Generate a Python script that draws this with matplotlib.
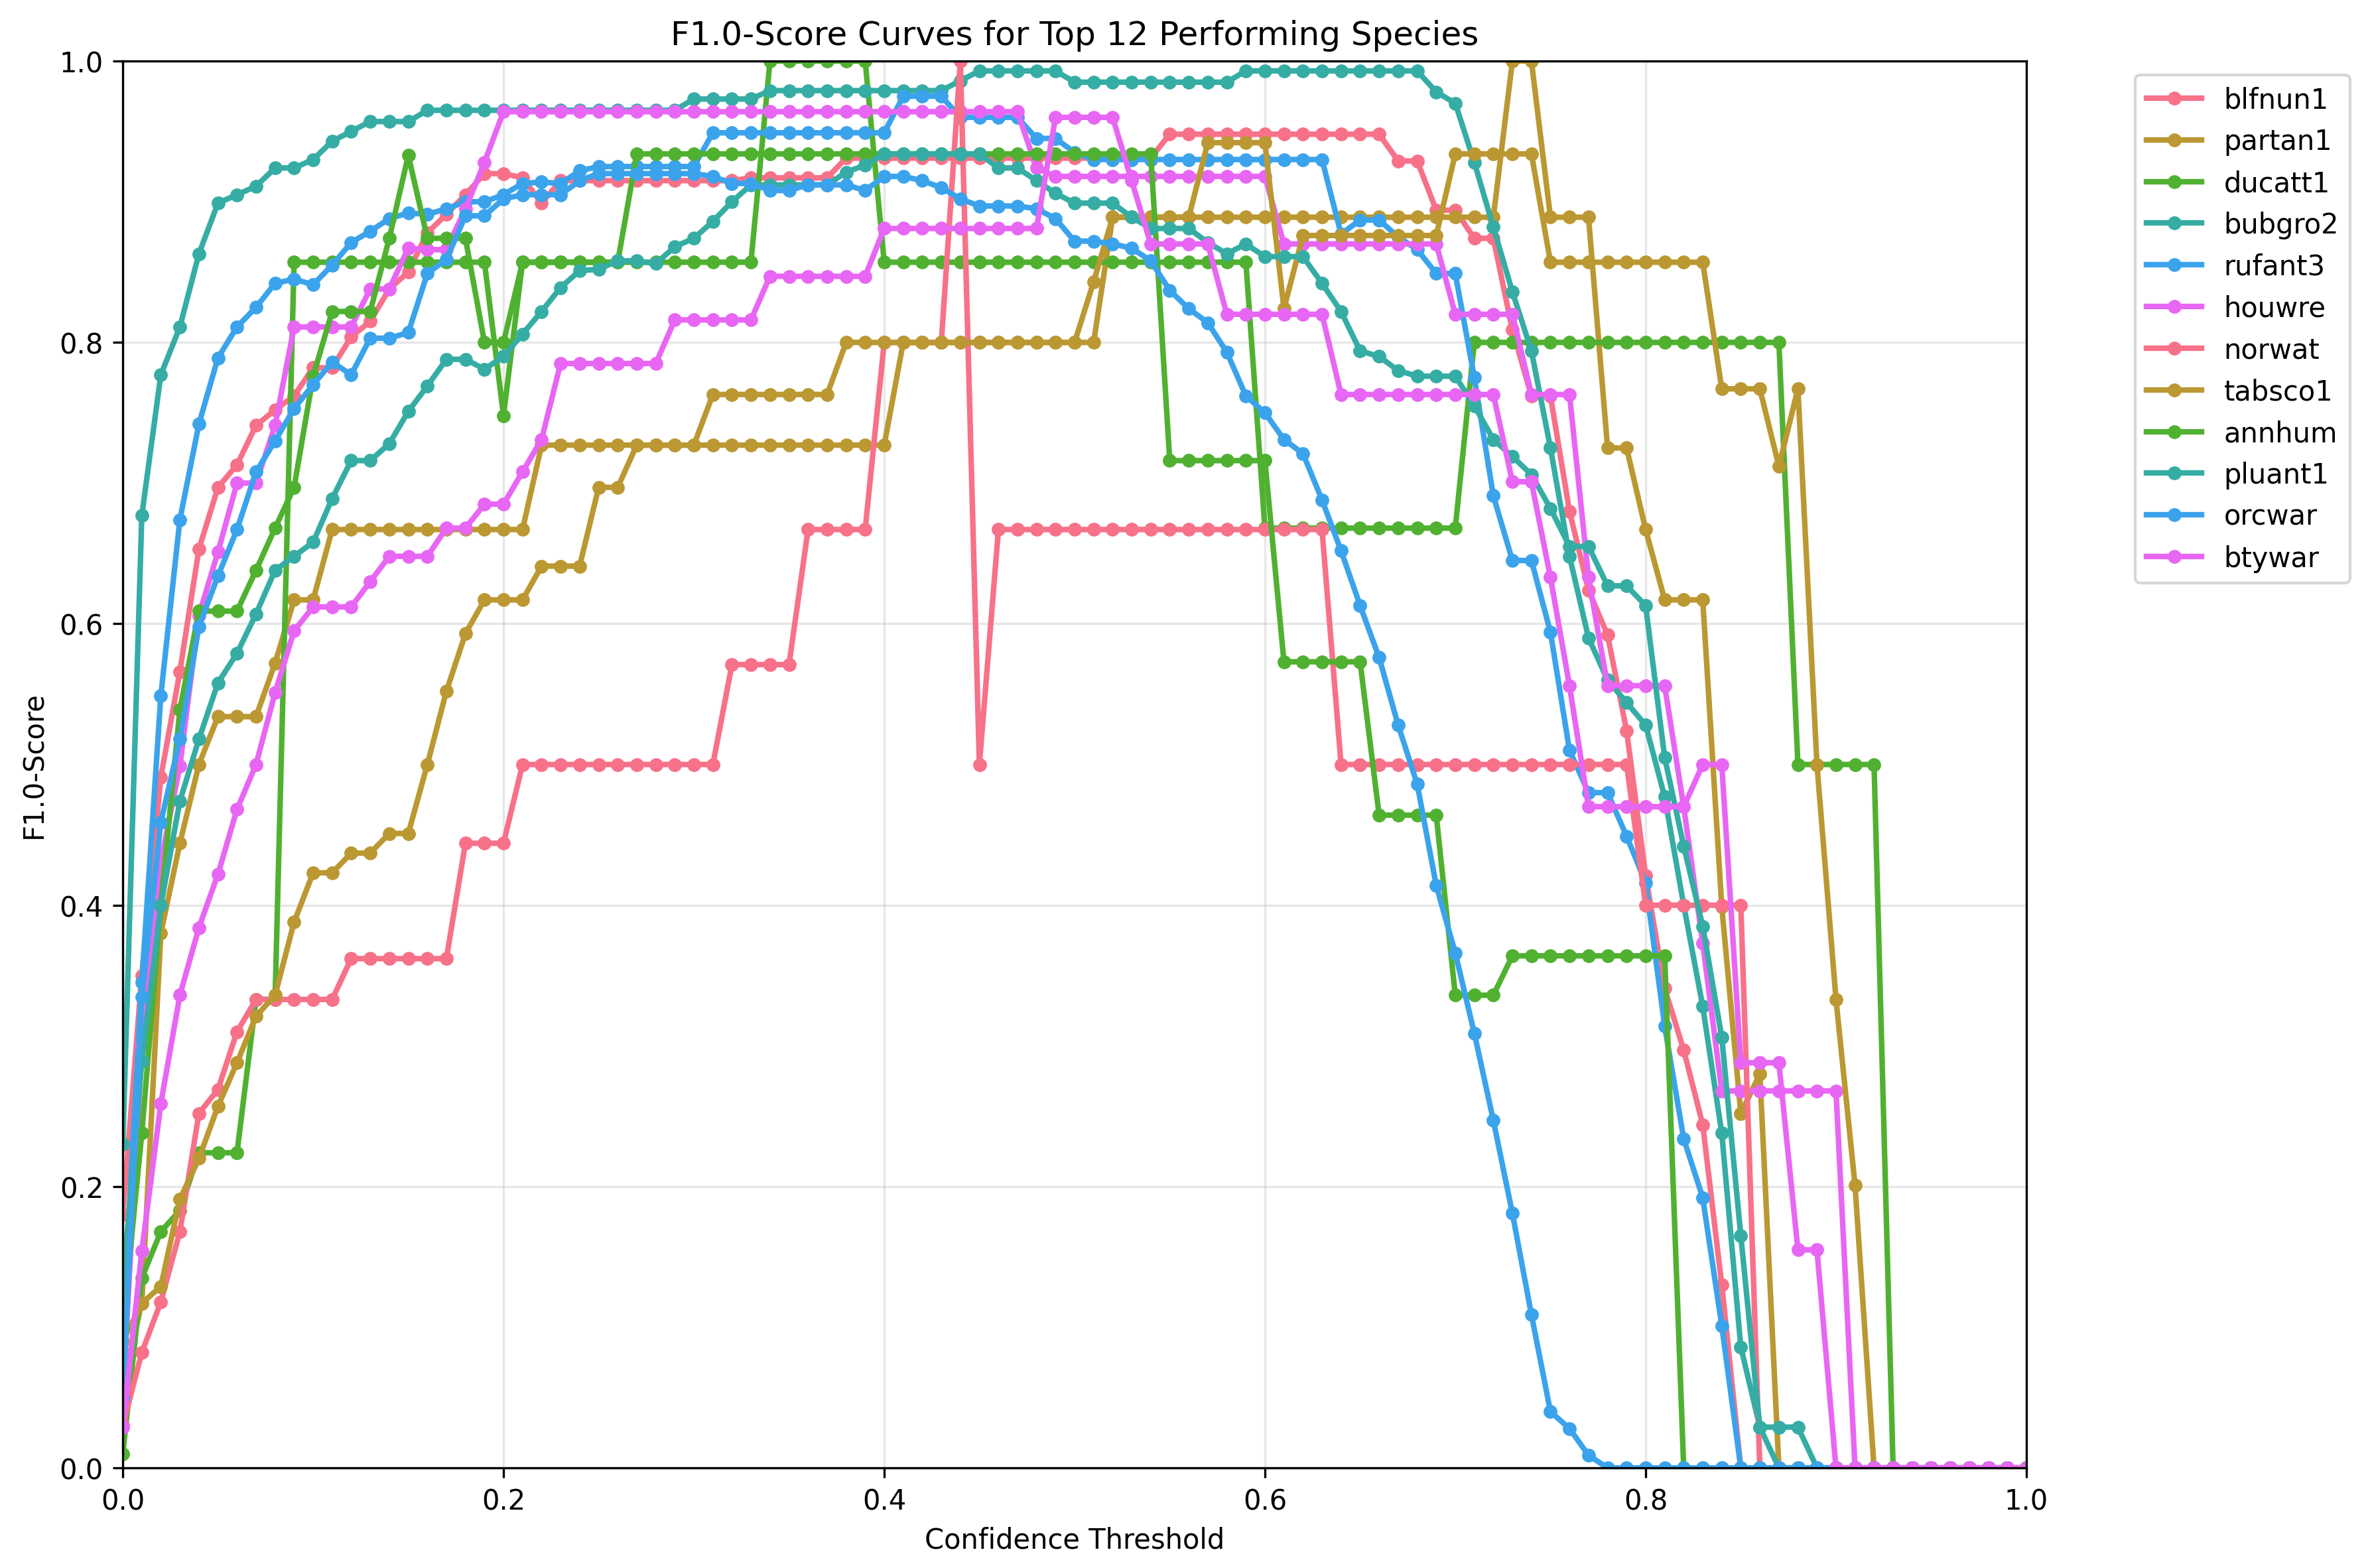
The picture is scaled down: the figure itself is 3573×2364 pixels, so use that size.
import numpy as np
import matplotlib
matplotlib.use('Agg')
import matplotlib.pyplot as plt
import seaborn as sns

# seuils de confiance 0.00 -> 1.00
thresholds = np.round(np.arange(0, 1.001, 0.01), 2)

species = ['blfnun1', 'partan1', 'ducatt1', 'bubgro2', 'rufant3', 'houwre',
           'norwat', 'tabsco1', 'annhum', 'pluant1', 'orcwar', 'btywar']

blfnun1 = [0.18, 0.35, 0.491, 0.566, 0.653, 0.697, 0.713, 0.741, 0.752, 0.762,
           0.782, 0.782, 0.804, 0.815, 0.838, 0.850, 0.878, 0.891, 0.905, 0.920,
           0.920, 0.917, 0.899, 0.915, 0.915, 0.915, 0.915, 0.915, 0.915, 0.915,
           0.915, 0.915, 0.915, 0.917, 0.917, 0.917, 0.917, 0.917, 0.931, 0.931,
           0.931, 0.931, 0.931, 0.931, 0.931, 0.931, 0.931, 0.931, 0.931, 0.931,
           0.931, 0.931, 0.931, 0.931, 0.931, 0.948, 0.948, 0.948, 0.948, 0.948,
           0.948, 0.948, 0.948, 0.948, 0.948, 0.948, 0.948, 0.929, 0.929, 0.894,
           0.894, 0.874, 0.874, 0.809, 0.762, 0.762, 0.680, 0.624, 0.592, 0.524,
           0.421, 0.341, 0.297, 0.244, 0.130, 0, 0, 0, 0, 0,
           0, 0, 0, 0, 0, 0, 0, 0, 0, 0, 0]

partan1 = [0.06, 0.117, 0.380, 0.444, 0.500, 0.534, 0.534, 0.534, 0.572, 0.617,
           0.617, 0.667, 0.667, 0.667, 0.667, 0.667, 0.667, 0.667, 0.667, 0.667,
           0.667, 0.667, 0.727, 0.727, 0.727, 0.727, 0.727, 0.727, 0.727, 0.727,
           0.727, 0.727, 0.727, 0.727, 0.727, 0.727, 0.727, 0.727, 0.727, 0.727,
           0.727, 0.800, 0.800, 0.800, 0.800, 0.800, 0.800, 0.800, 0.800, 0.800,
           0.800, 0.800, 0.889, 0.889, 0.889, 0.889, 0.889, 0.889, 0.889, 0.889,
           0.889, 0.889, 0.889, 0.889, 0.889, 0.889, 0.889, 0.889, 0.889, 0.889,
           0.889, 0.889, 0.889, 1.0, 1.0, 0.889, 0.889, 0.889, 0.725, 0.725,
           0.667, 0.617, 0.617, 0.617, 0.399, 0.252, 0.280, 0, 0, 0,
           0, 0, 0, 0, 0, 0, 0, 0, 0, 0, 0]

ducatt1 = [0.010, 0.135, 0.168, 0.183, 0.224, 0.224, 0.224, 0.333, 0.333, 0.857,
           0.857, 0.857, 0.857, 0.857, 0.857, 0.857, 0.857, 0.857, 0.857, 0.857,
           0.748, 0.857, 0.857, 0.857, 0.857, 0.857, 0.857, 0.857, 0.857, 0.857,
           0.857, 0.857, 0.857, 0.857, 1.0, 1.0, 1.0, 1.0, 1.0, 1.0,
           0.857, 0.857, 0.857, 0.857, 0.857, 0.857, 0.857, 0.857, 0.857, 0.857,
           0.857, 0.857, 0.857, 0.857, 0.857, 0.857, 0.857, 0.857, 0.857, 0.857,
           0.668, 0.668, 0.668, 0.668, 0.668, 0.668, 0.668, 0.668, 0.668, 0.668,
           0.668, 0.800, 0.800, 0.800, 0.800, 0.800, 0.800, 0.800, 0.800, 0.800,
           0.800, 0.800, 0.800, 0.800, 0.800, 0.800, 0.800, 0.800, 0.500, 0.500,
           0.500, 0.500, 0.500, 0, 0, 0, 0, 0, 0, 0, 0]

bubgro2 = [0.230, 0.677, 0.777, 0.811, 0.863, 0.899, 0.905, 0.911, 0.924, 0.924,
           0.930, 0.943, 0.950, 0.957, 0.957, 0.957, 0.965, 0.965, 0.965, 0.965,
           0.965, 0.965, 0.965, 0.965, 0.965, 0.965, 0.965, 0.965, 0.965, 0.965,
           0.973, 0.973, 0.973, 0.973, 0.979, 0.979, 0.979, 0.979, 0.979, 0.979,
           0.979, 0.979, 0.979, 0.979, 0.986, 0.993, 0.993, 0.993, 0.993, 0.993,
           0.985, 0.985, 0.985, 0.985, 0.985, 0.985, 0.985, 0.985, 0.985, 0.993,
           0.993, 0.993, 0.993, 0.993, 0.993, 0.993, 0.993, 0.993, 0.993, 0.978,
           0.970, 0.928, 0.882, 0.836, 0.794, 0.725, 0.648, 0.590, 0.560, 0.544,
           0.528, 0.477, 0.400, 0.328, 0.238, 0.086, 0.029, 0, 0, 0,
           0, 0, 0, 0, 0, 0, 0, 0, 0, 0, 0]

rufant3 = [0.10, 0.345, 0.549, 0.674, 0.742, 0.789, 0.811, 0.825, 0.842, 0.845,
           0.841, 0.855, 0.871, 0.879, 0.888, 0.892, 0.891, 0.895, 0.900, 0.900,
           0.905, 0.913, 0.914, 0.913, 0.922, 0.925, 0.925, 0.925, 0.925, 0.925,
           0.925, 0.949, 0.949, 0.949, 0.949, 0.949, 0.949, 0.949, 0.949, 0.949,
           0.949, 0.975, 0.975, 0.975, 0.960, 0.960, 0.960, 0.960, 0.945, 0.945,
           0.935, 0.930, 0.930, 0.930, 0.930, 0.930, 0.930, 0.930, 0.930, 0.930,
           0.930, 0.930, 0.930, 0.930, 0.877, 0.887, 0.887, 0.875, 0.866, 0.849,
           0.849, 0.775, 0.691, 0.645, 0.645, 0.594, 0.510, 0.480, 0.480, 0.449,
           0.416, 0.314, 0.234, 0.192, 0.101, 0, 0, 0, 0, 0,
           0, 0, 0, 0, 0, 0, 0, 0, 0, 0, 0]

houwre = [0.05, 0.30, 0.431, 0.499, 0.606, 0.651, 0.700, 0.700, 0.741, 0.811,
          0.811, 0.811, 0.811, 0.838, 0.838, 0.867, 0.866, 0.866, 0.895, 0.928,
          0.964, 0.964, 0.964, 0.964, 0.964, 0.964, 0.964, 0.964, 0.964, 0.964,
          0.964, 0.964, 0.964, 0.964, 0.964, 0.964, 0.964, 0.964, 0.964, 0.964,
          0.964, 0.964, 0.964, 0.964, 0.964, 0.964, 0.964, 0.964, 0.924, 0.918,
          0.918, 0.918, 0.918, 0.918, 0.918, 0.918, 0.918, 0.918, 0.918, 0.918,
          0.918, 0.870, 0.870, 0.870, 0.870, 0.870, 0.870, 0.870, 0.870, 0.870,
          0.820, 0.820, 0.820, 0.820, 0.763, 0.763, 0.763, 0.633, 0.556, 0.556,
          0.556, 0.556, 0.470, 0.373, 0.268, 0.268, 0.268, 0.268, 0.268, 0.268,
          0.268, 0, 0, 0, 0, 0, 0, 0, 0, 0, 0]

norwat = [0.03, 0.082, 0.118, 0.168, 0.252, 0.269, 0.310, 0.333, 0.333, 0.333,
          0.333, 0.333, 0.362, 0.362, 0.362, 0.362, 0.362, 0.362, 0.444, 0.444,
          0.444, 0.500, 0.500, 0.500, 0.500, 0.500, 0.500, 0.500, 0.500, 0.500,
          0.500, 0.500, 0.571, 0.571, 0.571, 0.571, 0.667, 0.667, 0.667, 0.667,
          0.800, 0.800, 0.800, 0.800, 1.0, 0.500, 0.667, 0.667, 0.667, 0.667,
          0.667, 0.667, 0.667, 0.667, 0.667, 0.667, 0.667, 0.667, 0.667, 0.667,
          0.667, 0.667, 0.667, 0.667, 0.500, 0.500, 0.500, 0.500, 0.500, 0.500,
          0.500, 0.500, 0.500, 0.500, 0.500, 0.500, 0.500, 0.500, 0.500, 0.500,
          0.400, 0.400, 0.400, 0.400, 0.400, 0.400, 0, 0, 0, 0,
          0, 0, 0, 0, 0, 0, 0, 0, 0, 0, 0]

tabsco1 = [0.09, 0.117, 0.129, 0.191, 0.220, 0.257, 0.288, 0.321, 0.336, 0.388,
           0.423, 0.423, 0.437, 0.437, 0.451, 0.451, 0.500, 0.552, 0.593, 0.617,
           0.617, 0.617, 0.641, 0.641, 0.641, 0.697, 0.697, 0.727, 0.727, 0.727,
           0.727, 0.763, 0.763, 0.763, 0.763, 0.763, 0.763, 0.763, 0.800, 0.800,
           0.800, 0.800, 0.800, 0.800, 0.800, 0.800, 0.800, 0.800, 0.800, 0.800,
           0.800, 0.843, 0.889, 0.889, 0.889, 0.889, 0.889, 0.942, 0.942, 0.942,
           0.942, 0.824, 0.876, 0.876, 0.876, 0.876, 0.876, 0.876, 0.876, 0.876,
           0.934, 0.934, 0.934, 0.934, 0.934, 0.857, 0.857, 0.857, 0.857, 0.857,
           0.857, 0.857, 0.857, 0.857, 0.767, 0.767, 0.767, 0.712, 0.767, 0.500,
           0.333, 0.201, 0, 0, 0, 0, 0, 0, 0, 0, 0]

annhum = [0.10, 0.238, 0.400, 0.539, 0.609, 0.609, 0.609, 0.638, 0.668, 0.697,
          0.776, 0.822, 0.822, 0.822, 0.874, 0.933, 0.874, 0.874, 0.874, 0.800,
          0.800, 0.857, 0.857, 0.857, 0.857, 0.857, 0.857, 0.934, 0.934, 0.934,
          0.934, 0.934, 0.934, 0.934, 0.934, 0.934, 0.934, 0.934, 0.934, 0.934,
          0.934, 0.934, 0.934, 0.934, 0.934, 0.934, 0.934, 0.934, 0.934, 0.934,
          0.934, 0.934, 0.934, 0.934, 0.934, 0.716, 0.716, 0.716, 0.716, 0.716,
          0.716, 0.573, 0.573, 0.573, 0.573, 0.573, 0.464, 0.464, 0.464, 0.464,
          0.336, 0.336, 0.336, 0.364, 0.364, 0.364, 0.364, 0.364, 0.364, 0.364,
          0.364, 0.364, 0, 0, 0, 0, 0, 0, 0, 0,
          0, 0, 0, 0, 0, 0, 0, 0, 0, 0, 0]

pluant1 = [0.130, 0.289, 0.400, 0.474, 0.518, 0.558, 0.579, 0.607, 0.638, 0.648,
           0.658, 0.689, 0.716, 0.716, 0.728, 0.751, 0.769, 0.788, 0.788, 0.781,
           0.790, 0.806, 0.822, 0.839, 0.851, 0.852, 0.858, 0.858, 0.856, 0.868,
           0.874, 0.886, 0.900, 0.912, 0.912, 0.912, 0.912, 0.912, 0.921, 0.926,
           0.934, 0.934, 0.934, 0.934, 0.934, 0.934, 0.924, 0.924, 0.915, 0.906,
           0.899, 0.899, 0.899, 0.889, 0.881, 0.881, 0.881, 0.871, 0.863, 0.870,
           0.861, 0.861, 0.861, 0.842, 0.822, 0.794, 0.790, 0.780, 0.776, 0.776,
           0.776, 0.755, 0.731, 0.719, 0.706, 0.682, 0.655, 0.655, 0.627, 0.627,
           0.613, 0.505, 0.442, 0.385, 0.306, 0.165, 0.029, 0.029, 0.029, 0,
           0, 0, 0, 0, 0, 0, 0, 0, 0, 0, 0]

orcwar = [0.05, 0.335, 0.459, 0.518, 0.598, 0.634, 0.667, 0.708, 0.730, 0.753,
          0.770, 0.786, 0.777, 0.803, 0.803, 0.807, 0.849, 0.859, 0.890, 0.890,
          0.902, 0.905, 0.905, 0.905, 0.915, 0.920, 0.920, 0.920, 0.920, 0.920,
          0.920, 0.918, 0.913, 0.913, 0.908, 0.908, 0.912, 0.912, 0.912, 0.908,
          0.918, 0.918, 0.915, 0.910, 0.902, 0.897, 0.897, 0.897, 0.895, 0.888,
          0.872, 0.872, 0.870, 0.867, 0.858, 0.837, 0.824, 0.814, 0.793, 0.762,
          0.750, 0.731, 0.721, 0.688, 0.652, 0.613, 0.576, 0.528, 0.486, 0.414,
          0.366, 0.309, 0.247, 0.181, 0.109, 0.040, 0.028, 0.009, 0, 0,
          0, 0, 0, 0, 0, 0, 0, 0, 0, 0,
          0, 0, 0, 0, 0, 0, 0, 0, 0, 0, 0]

btywar = [0.029, 0.154, 0.259, 0.336, 0.384, 0.422, 0.468, 0.500, 0.551, 0.595,
          0.612, 0.612, 0.612, 0.630, 0.648, 0.648, 0.648, 0.668, 0.668, 0.685,
          0.685, 0.708, 0.731, 0.785, 0.785, 0.785, 0.785, 0.785, 0.785, 0.816,
          0.816, 0.816, 0.816, 0.816, 0.847, 0.847, 0.847, 0.847, 0.847, 0.847,
          0.881, 0.881, 0.881, 0.881, 0.881, 0.881, 0.881, 0.881, 0.881, 0.960,
          0.960, 0.960, 0.960, 0.915, 0.870, 0.870, 0.870, 0.870, 0.820, 0.820,
          0.820, 0.820, 0.820, 0.820, 0.763, 0.763, 0.763, 0.763, 0.763, 0.763,
          0.763, 0.763, 0.763, 0.701, 0.701, 0.633, 0.556, 0.470, 0.470, 0.470,
          0.470, 0.470, 0.470, 0.500, 0.500, 0.288, 0.288, 0.288, 0.155, 0.155,
          0, 0, 0, 0, 0, 0, 0, 0, 0, 0, 0]

scores = [blfnun1, partan1, ducatt1, bubgro2, rufant3, houwre,
          norwat, tabsco1, annhum, pluant1, orcwar, btywar]

colors = sns.color_palette('husl', 6)

fig, ax = plt.subplots(figsize=(11.91, 7.883), dpi=300)
fig.subplots_adjust(left=0.0518, right=0.855, bottom=0.0638, top=0.9607)

for i, (name, vals) in enumerate(zip(species, scores)):
    ax.plot(thresholds, vals, marker='o', markersize=4, linewidth=2,
            color=colors[i % 6], label=name)

ax.set_xlim(0, 1)
ax.set_ylim(0, 1)
ax.set_title('F1.0-Score Curves for Top 12 Performing Species')
ax.set_xlabel('Confidence Threshold')
ax.set_ylabel('F1.0-Score')
ax.grid(True, alpha=0.3)
ax.legend(bbox_to_anchor=(1.05, 1), loc='upper left')

fig.savefig('out.png', dpi=300)
